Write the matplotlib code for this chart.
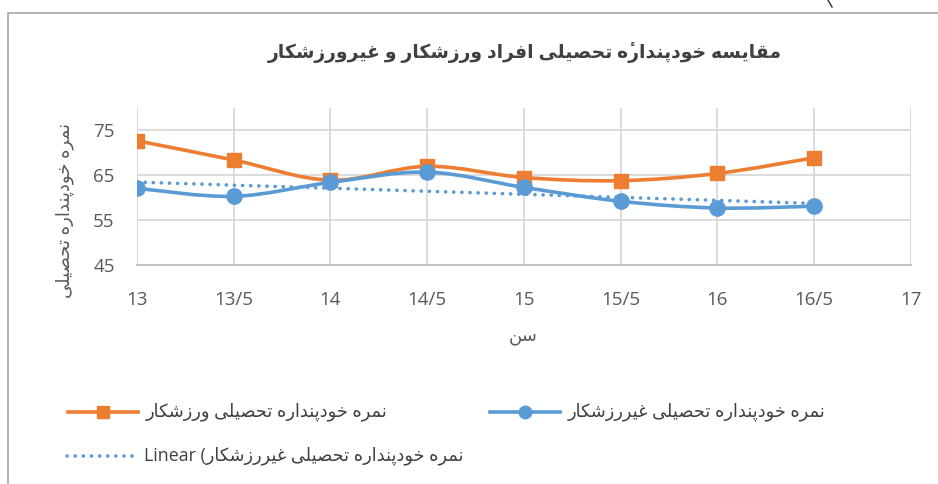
import numpy as np
import matplotlib
matplotlib.use("Agg")
import matplotlib.pyplot as plt
from matplotlib.path import Path
from matplotlib.patches import PathPatch, Rectangle
from matplotlib.lines import Line2D

plt.rcParams["font.family"] = ["Open Sans", "DejaVu Sans"]

# ---- data ----
ages = [13, 13.5, 14, 14.5, 15, 15.5, 16, 16.5]
athletes = [72.7, 68.4, 63.9, 67.0, 64.5, 63.8, 65.4, 68.9]
non_athletes = [62.1, 60.3, 63.4, 65.7, 62.3, 59.2, 57.7, 58.1]
x_ticks = [13, 13.5, 14, 14.5, 15, 15.5, 16, 16.5, 17]
x_tick_labels = ["13", "13/5", "14", "14/5", "15", "15/5", "16", "16/5", "17"]
y_ticks = [45, 55, 65, 75]

title = "مقایسه خودپندارۀ تحصیلی افراد ورزشکار و غیرورزشکار"
y_label = "نمره خودپنداره تحصیلی"
x_label = "سن"
name_athletes = "نمره خودپنداره تحصیلی ورزشکار"
name_non = "نمره خودپنداره تحصیلی غیررزشکار"

ORANGE = "#ED7D31"
BLUE = "#5B9BD5"
TEXT = "#595959"

# ---- minimal Persian shaping (matplotlib has no complex text layout) ----
FORMS = {  # isolated, final, initial, medial
    "ا": (0xFE8D, 0xFE8E, None, None),
    "ب": (0xFE8F, 0xFE90, 0xFE91, 0xFE92),
    "پ": (0xFB56, 0xFB57, 0xFB58, 0xFB59),
    "ت": (0xFE95, 0xFE96, 0xFE97, 0xFE98),
    "ح": (0xFEA1, 0xFEA2, 0xFEA3, 0xFEA4),
    "خ": (0xFEA5, 0xFEA6, 0xFEA7, 0xFEA8),
    "د": (0xFEA9, 0xFEAA, None, None),
    "ر": (0xFEAD, 0xFEAE, None, None),
    "ز": (0xFEAF, 0xFEB0, None, None),
    "س": (0xFEB1, 0xFEB2, 0xFEB3, 0xFEB4),
    "ش": (0xFEB5, 0xFEB6, 0xFEB7, 0xFEB8),
    "ص": (0xFEB9, 0xFEBA, 0xFEBB, 0xFEBC),
    "غ": (0xFECD, 0xFECE, 0xFECF, 0xFED0),
    "ف": (0xFED1, 0xFED2, 0xFED3, 0xFED4),
    "ق": (0xFED5, 0xFED6, 0xFED7, 0xFED8),
    "ک": (0xFB8E, 0xFB8F, 0xFB90, 0xFB91),
    "ل": (0xFEDD, 0xFEDE, 0xFEDF, 0xFEE0),
    "م": (0xFEE1, 0xFEE2, 0xFEE3, 0xFEE4),
    "ن": (0xFEE5, 0xFEE6, 0xFEE7, 0xFEE8),
    "ه": (0xFEE9, 0xFEEA, 0xFEEB, 0xFEEC),
    "و": (0xFEED, 0xFEEE, None, None),
    "ی": (0xFBFC, 0xFBFD, 0xFBFE, 0xFBFF),
    # heh + hamza above: heh forms, the hamza is added as a combining mark
    "ۀ": (0xFEE9, 0xFEEA, None, None),
}
MARKS = {"ۀ": "\u0654"}


def fa(text):
    clusters = []
    for i, ch in enumerate(text):
        if ch not in FORMS:
            clusters.append(ch)
            continue
        prev = text[i - 1] if i > 0 else ""
        nxt = text[i + 1] if i + 1 < len(text) else ""
        joins_prev = prev in FORMS and FORMS[prev][2] is not None
        joins_next = nxt in FORMS and FORMS[ch][2] is not None
        iso, fin, ini, med = FORMS[ch]
        if joins_prev and joins_next:
            code = med
        elif joins_prev:
            code = fin
        elif joins_next:
            code = ini
        else:
            code = iso
        clusters.append(chr(code) + MARKS.get(ch, ""))
    return "".join(reversed(clusters))


def smooth_path(xs, ys):
    # Excel-like smoothed line: cubic bezier through every point
    pts = np.column_stack([xs, ys]).astype(float)
    n = len(pts)
    verts = [pts[0]]
    codes = [Path.MOVETO]
    for i in range(n - 1):
        p0 = pts[i - 1] if i > 0 else pts[i]
        p1, p2 = pts[i], pts[i + 1]
        p3 = pts[i + 2] if i + 2 < n else pts[i + 1]
        verts += [p1 + (p2 - p0) / 6, p2 - (p3 - p1) / 6, p2]
        codes += [Path.CURVE4] * 3
    return Path(verts, codes)


fig = plt.figure(figsize=(9.38, 4.84), dpi=100)
ax = fig.add_axes([0.146, 0.4525, 0.825, 0.3244])

ax.set_xlim(13, 17)
ax.set_ylim(45, 80)
ax.set_xticks(x_ticks)
ax.set_xticklabels(x_tick_labels)
ax.set_yticks(y_ticks)
ax.tick_params(length=0, labelsize=13.5, labelcolor=TEXT)
ax.tick_params(axis="x", pad=19)
ax.tick_params(axis="y", pad=16)
ax.grid(True, color="#D9D9D9", linewidth=1.3)
ax.set_axisbelow(True)
for side in ["top", "right", "left"]:
    ax.spines[side].set_visible(False)
ax.spines["bottom"].set_color("#BFBFBF")
ax.spines["bottom"].set_linewidth(1.3)

# series
ax.add_patch(PathPatch(smooth_path(ages, athletes), fill=False,
                       edgecolor=ORANGE, linewidth=2.6, zorder=3, capstyle="round"))
ax.plot(ages, athletes, linestyle="none", marker="s", markersize=10,
        color=ORANGE, zorder=4)
ax.add_patch(PathPatch(smooth_path(ages, non_athletes), fill=False,
                       edgecolor=BLUE, linewidth=2.6, zorder=5, capstyle="round"))

# linear trend of the non-athlete series
slope, intercept = np.polyfit(ages, non_athletes, 1)
trend_x = np.array([ages[0], ages[-1]])
ax.plot(trend_x, slope * trend_x + intercept, color=BLUE, linewidth=2.6,
        linestyle=(0, (0.05, 2.2)), dash_capstyle="round", zorder=6)
ax.plot(ages, non_athletes, linestyle="none", marker="o", markersize=11,
        color=BLUE, zorder=7)

# texts
fig.text(0.56, 0.892, fa(title), ha="center", va="center", fontsize=13.5,
         fontweight="bold", color="#404040")
fig.text(0.069, 0.565, fa(y_label), ha="center", va="center", rotation=90,
         fontsize=13, color=TEXT)
fig.text(0.558, 0.305, fa(x_label), ha="center", va="center", fontsize=13,
         color=TEXT)

# chart frame, and the clipped stroke of a glyph from the page above
fig.patches.append(Rectangle((8 / 938, -0.2), 1.2, 0.2 + (1 - 13 / 484),
                             transform=fig.transFigure, fill=False,
                             edgecolor="#A6A6A6", linewidth=1.2))
fig.lines.append(Line2D([828 / 938, 832 / 938], [1.0, 1 - 7 / 484],
                        color="#404040", linewidth=1.1, transform=fig.transFigure))


# legend
def legend_key(x0, x1, y, color, marker=None, dotted=False):
    yy = 1 - y / 484
    style = (0, (0.05, 2.2)) if dotted else "-"
    fig.lines.append(Line2D([x0 / 938, x1 / 938], [yy, yy], color=color,
                            linewidth=2.6, linestyle=style,
                            dash_capstyle="round", transform=fig.transFigure))
    if marker:
        fig.lines.append(Line2D([(x0 + x1) / 2 / 938], [yy], color=color,
                                marker=marker, markersize=8 if marker == "s" else 9,
                                transform=fig.transFigure))


LEG_FS = 12.8
legend_key(68, 138, 412, ORANGE, "s")
fig.text(146 / 938, 1 - 412 / 484, fa(name_athletes), ha="left", va="center",
         fontsize=LEG_FS, color="#404040")
legend_key(490, 560, 412, BLUE, "o")
fig.text(568 / 938, 1 - 412 / 484, fa(name_non), ha="left", va="center",
         fontsize=LEG_FS, color="#404040")
legend_key(67, 137, 456, BLUE, dotted=True)
fig.text(144 / 938, 1 - 456 / 484, "Linear (" + fa(name_non), ha="left",
         va="center", fontsize=LEG_FS, color="#404040")

fig.savefig("out.png", dpi=100)
